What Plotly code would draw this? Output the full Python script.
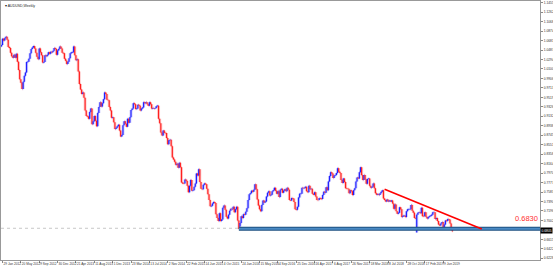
import pandas as pd
import plotly.graph_objects as go

# ---- data (weekly closes, AUDUSD) ----
start_week = "2012-01-22"
close_2012 = [1.0590, 1.0720,
              1.0680, 1.0730, 1.0760, 1.0700,
              1.0550, 1.0530, 1.0430, 1.0360,
              1.0330, 1.0390, 1.0330, 1.0410, 1.0250,
              1.0080, 0.9890, 0.9820, 0.9690,
              0.9840, 0.9960, 1.0030, 1.0240,
              1.0250, 1.0310, 1.0420, 1.0510, 1.0540,
              1.0570, 1.0520, 1.0430, 1.0350,
              1.0300, 1.0520, 1.0440, 1.0380, 1.0230,
              1.0240, 1.0380, 1.0360, 1.0390,
              1.0440, 1.0410, 1.0450, 1.0440,
              1.0470, 1.0530, 1.0510, 1.0390, 1.0480]
close_2013 = [1.0510, 1.0560, 1.0520, 1.0430,
              1.0420, 1.0310, 1.0270, 1.0200,
              1.0250, 1.0320, 1.0420, 1.0440, 1.0440,
              1.0560, 1.0380, 1.0280, 1.0300,
              1.0050, 0.9790, 0.9680, 0.9590,
              0.9620, 0.9510, 0.9250, 0.9140, 0.9130,
              0.9080, 0.9220, 0.9290, 0.8970,
              0.9030, 0.9140, 0.9040, 0.8930,
              0.9200, 0.9320, 0.9420, 0.9330, 0.9400,
              0.9480, 0.9620, 0.9590, 0.9470,
              0.9460, 0.9320, 0.9250, 0.9100,
              0.9110, 0.9010, 0.8870, 0.8900, 0.8930]
close_2014 = [0.8960, 0.8840, 0.8720, 0.8750,
              0.8950, 0.9030, 0.8980, 0.8920,
              0.9080, 0.9000, 0.9110, 0.9260, 0.9290,
              0.9400, 0.9380, 0.9280, 0.9290,
              0.9370, 0.9350, 0.9250, 0.9290,
              0.9310, 0.9420, 0.9400, 0.9420, 0.9380,
              0.9350, 0.9420, 0.9380, 0.9290,
              0.9300, 0.9290, 0.9300, 0.9340, 0.9350,
              0.9080, 0.8990, 0.8800, 0.8740,
              0.8840, 0.8790, 0.8790, 0.8690,
              0.8560, 0.8640, 0.8650, 0.8520, 0.8290,
              0.8250, 0.8200, 0.8140, 0.8160]
close_2015 = [0.8080, 0.8180, 0.8090, 0.7780,
              0.7760, 0.7760, 0.7840, 0.7810,
              0.7710, 0.7580, 0.7710, 0.7830, 0.7610,
              0.7620, 0.7690, 0.7760, 0.7960,
              0.7920, 0.8050, 0.7790, 0.7650, 0.7640,
              0.7730, 0.7760, 0.7740, 0.7650,
              0.7540, 0.7420, 0.7290, 0.7300,
              0.7350, 0.7380, 0.7360, 0.7130, 0.7050,
              0.6990, 0.7150, 0.6990, 0.7020,
              0.7260, 0.7310, 0.7220, 0.7080,
              0.7040, 0.7120, 0.7200, 0.7240, 0.7230,
              0.7280, 0.7170, 0.7230, 0.7280]
close_2016 = [0.7000, 0.6880, 0.6950, 0.7090, 0.7050,
              0.7130, 0.7120, 0.7180, 0.7250,
              0.7420, 0.7540, 0.7560, 0.7610,
              0.7590, 0.7630, 0.7740, 0.7640,
              0.7430, 0.7310, 0.7230, 0.7190, 0.7320,
              0.7410, 0.7370, 0.7390, 0.7490,
              0.7570, 0.7600, 0.7510, 0.7530, 0.7600,
              0.7620, 0.7670, 0.7610, 0.7550,
              0.7600, 0.7480, 0.7630, 0.7650,
              0.7570, 0.7610, 0.7640, 0.7600, 0.7670,
              0.7630, 0.7420, 0.7410, 0.7460,
              0.7450, 0.7380, 0.7230, 0.7220]
close_2017 = [0.7280, 0.7470, 0.7550, 0.7550, 0.7670,
              0.7660, 0.7670, 0.7690, 0.7600,
              0.7580, 0.7710, 0.7640, 0.7650,
              0.7550, 0.7530, 0.7580, 0.7490, 0.7420,
              0.7420, 0.7460, 0.7450, 0.7440,
              0.7520, 0.7590, 0.7570, 0.7680,
              0.7620, 0.7800, 0.7910, 0.7990, 0.7960,
              0.7870, 0.7920, 0.7930, 0.7970,
              0.8070, 0.8000, 0.7970, 0.7830,
              0.7770, 0.7860, 0.7790, 0.7660, 0.7650,
              0.7650, 0.7560, 0.7620, 0.7600,
              0.7520, 0.7620, 0.7660, 0.7800, 0.7880]
close_2018 = [0.7860, 0.7990, 0.8090, 0.7930,
              0.7830, 0.7930, 0.7840, 0.7750,
              0.7850, 0.7860, 0.7710, 0.7670,
              0.7690, 0.7760, 0.7660, 0.7560, 0.7530,
              0.7540, 0.7520, 0.7560, 0.7590,
              0.7620, 0.7450, 0.7420, 0.7390,
              0.7430, 0.7390, 0.7410, 0.7390, 0.7410,
              0.7350, 0.7240, 0.7330, 0.7190,
              0.7140, 0.7160, 0.7270, 0.7230, 0.7070,
              0.7100, 0.7100, 0.7070, 0.7190,
              0.7230, 0.7230, 0.7230, 0.7320,
              0.7200, 0.7160, 0.7050, 0.7045, 0.7120]
close_2019 = [0.7160, 0.7170, 0.7150, 0.7260,
              0.7090, 0.7090, 0.7170, 0.7080,
              0.7040, 0.7070, 0.7090, 0.7100, 0.7120,
              0.7170, 0.7170, 0.7030, 0.7050,
              0.6990, 0.6920, 0.6900, 0.6940,
              0.6970, 0.6860, 0.6920, 0.7000, 0.6990,
              0.7030, 0.7020, 0.6940, 0.6830,
              0.6780]
first_open = 1.0560
spike_lows = {"2018-12-30": 0.6755, "2016-01-10": 0.6827}

# right-axis labels (the one at 0.6809 is hidden behind the price box)
y_tick_values = [0.6228, 0.6422, 0.6615, 0.7002, 0.7196, 0.7390, 0.7583,
                 0.7777, 0.7970, 0.8164, 0.8358, 0.8551, 0.8745, 0.8938, 0.9132,
                 0.9326, 0.9519, 0.9713, 0.9906, 1.0100, 1.0294, 1.0487, 1.0681,
                 1.0874, 1.1068, 1.1262, 1.1455]
x_tick_dates = ["2012-01-29", "2012-05-20", "2012-09-09", "2012-12-30", "2013-04-21",
                "2013-08-11", "2013-12-01", "2014-03-23", "2014-07-13", "2014-11-02",
                "2015-02-22", "2015-06-14", "2015-10-04", "2016-01-24", "2016-05-15",
                "2016-09-04", "2016-12-25", "2017-04-16", "2017-08-06", "2017-11-26",
                "2018-03-18", "2018-07-08", "2018-10-28", "2019-02-17", "2019-06-09"]

trend_dates = ["2018-06-17", "2020-01-31"]
trend_prices = [0.7642, 0.6827]
support_dates = ["2016-01-10", "2021-01-20"]
support_price = 0.6830
bid_price = 0.6842
last_price_label = "0.6805"
last_price = 0.6805
x_range = ["2012-01-20", "2021-01-20"]
y_range = [0.6193, 1.1490]

# ---- build OHLC ----
close = close_2012 + close_2013 + close_2014 + close_2015 + close_2016 + close_2017 + close_2018 + close_2019
dates = pd.date_range(start_week, periods=len(close), freq="7D")
date_str = list(dates.strftime("%Y-%m-%d"))
opens = [first_open] + close[:-1]
highs = [max(o, c) for o, c in zip(opens, close)]
lows = [min(o, c) for o, c in zip(opens, close)]
for d, v in spike_lows.items():
    if d in date_str:
        i = date_str.index(d)
        lows[i] = min(lows[i], v)

fig = go.Figure()
fig.add_trace(go.Ohlc(x=dates, open=opens, high=highs, low=lows, close=close,
                      increasing=dict(line=dict(color="rgba(120,120,255,0.35)", width=3)),
                      decreasing=dict(line=dict(color="rgba(255,120,120,0.35)", width=3)),
                      tickwidth=0.3, showlegend=False, hoverinfo="skip"))
fig.add_trace(go.Ohlc(x=dates, open=opens, high=highs, low=lows, close=close,
                      increasing=dict(line=dict(color="#1f1fff", width=1.2)),
                      decreasing=dict(line=dict(color="#ff1f1f", width=1.2)),
                      tickwidth=0.3, showlegend=False))

fig.add_trace(go.Scatter(x=x_range, y=[bid_price, bid_price], mode="lines",
                         line=dict(color="#c8c8c8", width=1, dash="dot"),
                         showlegend=False, hoverinfo="skip"))
fig.add_trace(go.Scatter(x=support_dates, y=[support_price, support_price], mode="lines",
                         line=dict(color="#1d4f80", width=4), showlegend=False, hoverinfo="skip"))
fig.add_trace(go.Scatter(x=support_dates, y=[support_price, support_price], mode="lines",
                         line=dict(color="#4a8ac4", width=2), showlegend=False, hoverinfo="skip"))
fig.add_trace(go.Scatter(x=trend_dates, y=trend_prices, mode="lines",
                         line=dict(color="#ff0000", width=1.6), showlegend=False, hoverinfo="skip"))

fig.update_layout(
    width=553, height=267,
    margin=dict(l=1, r=13, t=1, b=7, autoexpand=False),
    paper_bgcolor="white", plot_bgcolor="white",
    font=dict(family="Liberation Sans, Arial, sans-serif"),
    xaxis=dict(type="date", range=x_range, rangeslider=dict(visible=False),
               tickvals=x_tick_dates,
               ticktext=[pd.Timestamp(d).strftime("%-d %b %Y") for d in x_tick_dates],
               ticklabelposition="outside right", tickangle=0, automargin=False,
               tickfont=dict(size=3.2, color="#333"), ticks="outside", ticklen=2,
               tickcolor="#888", showgrid=False, showline=True, linecolor="#999",
               linewidth=1, mirror=True, zeroline=False, fixedrange=True),
    yaxis=dict(side="right", range=y_range, tickvals=y_tick_values,
               ticktext=[f"{v:.4f}" for v in y_tick_values], automargin=False,
               tickfont=dict(size=3.3, color="#333"), ticks="outside", ticklen=2,
               tickcolor="#888", showgrid=False, showline=True, linecolor="#999",
               linewidth=1, mirror=True, zeroline=False),
)

fig.add_annotation(xref="paper", yref="paper", x=0.004, y=0.995, xanchor="left", yanchor="top",
                   text="▾ AUDUSD,Weekly", showarrow=False,
                   font=dict(size=3.5, color="#222"))
fig.add_annotation(xref="paper", yref="y", x=1.0, y=support_price, xanchor="right", yanchor="bottom",
                   text="0.6830", showarrow=False, yshift=4,
                   font=dict(size=7.5, color="#ff3030"))
fig.add_annotation(xref="paper", yref="y", x=1.0, y=last_price, xanchor="left", yanchor="middle",
                   text=last_price_label, showarrow=False, bgcolor="black",
                   font=dict(size=3.3, color="white"), borderpad=0.5)

fig.write_html("out.html")
